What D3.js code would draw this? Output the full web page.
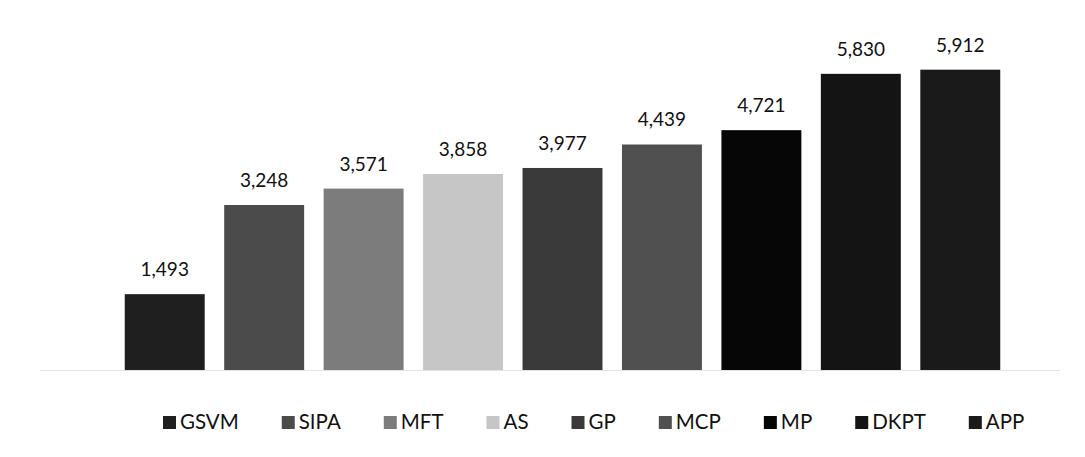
<!DOCTYPE html>
<html lang="en">

<head>
  <meta charset="UTF-8">
  <title>Bar chart</title>
  <script src="https://d3js.org/d3.v7.min.js"></script>
  <style>
    body { margin: 0; background: #fff; }
    text { font-family: Lato, "Open Sans", sans-serif; fill: #111; }
  </style>
</head>

<body>
  <script>
    const methods = ['GSVM', 'SIPA', 'MFT', 'AS', 'GP', 'MCP', 'MP', 'DKPT', 'APP'];
    const values = [1493, 3248, 3571, 3858, 3977, 4439, 4721, 5830, 5912];
    const shades = ['#1f1f1f', '#4b4b4b', '#7c7c7c', '#c6c6c6', '#3a3a3a', '#505050', '#060606', '#141414', '#1a1a1a'];

    const w = 1085;
    const h = 457;

    const svg = d3.select('body')
      .append('svg')
      .attr('width', w)
      .attr('height', h)

    // x: one band per method
    const xScale = d3.scaleBand()
      .domain(methods)
      .range([115, 1010])
      .paddingInner(0.196)
      .paddingOuter(0.098)

    // y: baseline at 370
    const yScale = d3.scaleLinear()
      .domain([0, 7000])
      .range([370, 14.4])

    const color = d3.scaleOrdinal()
      .domain(methods)
      .range(shades)

    // faint baseline
    svg.append('line')
      .attr('x1', 40)
      .attr('x2', 1060)
      .attr('y1', yScale(0) + 0.5)
      .attr('y2', yScale(0) + 0.5)
      .attr('stroke', '#e3e3e3')
      .attr('stroke-width', 1)

    //bars
    svg.selectAll('rect.bar')
      .data(methods)
      .enter()
      .append('rect')
      .attr('class', 'bar')
      .attr('x', d => xScale(d))
      .attr('width', xScale.bandwidth())
      .attr('y', (d, i) => yScale(values[i]))
      .attr('height', (d, i) => yScale(0) - yScale(values[i]))
      .attr('fill', d => color(d))

    //value labels
    svg.selectAll('text.val')
      .data(methods)
      .enter()
      .append('text')
      .attr('class', 'val')
      .attr('x', d => xScale(d) + xScale.bandwidth() / 2)
      .attr('y', (d, i) => yScale(values[i]) - 18)
      .attr('text-anchor', 'middle')
      .style('font-size', '19px')
      .text((d, i) => d3.format(',')(values[i]))

    //legend, laid out by text width
    const legend = svg.append('g')
    let lx = 163;
    methods.forEach(m => {
      legend.append('rect')
        .attr('x', lx)
        .attr('y', 416)
        .attr('width', 13)
        .attr('height', 13)
        .attr('fill', color(m))
      const t = legend.append('text')
        .attr('x', lx + 17)
        .attr('y', 429)
        .style('font-size', '20.5px')
        .text(m)
      lx += 17 + t.node().getComputedTextLength() + 43;
    })
  </script>
</body>

</html>
